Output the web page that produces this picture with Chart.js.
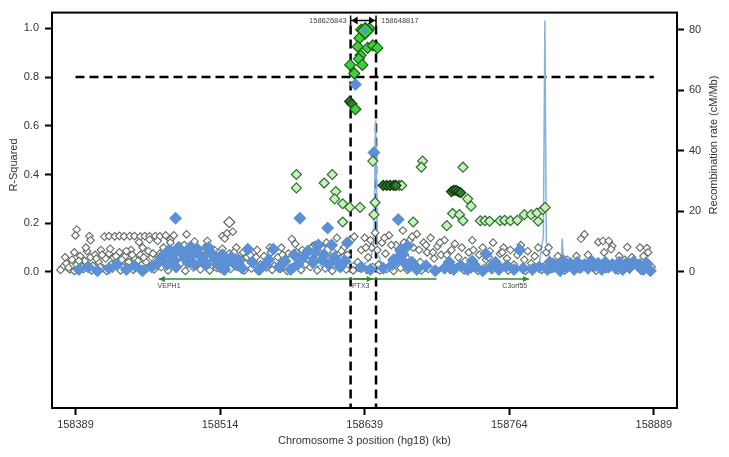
<!DOCTYPE html>
<html>
<head>
<meta charset="utf-8">
<script src="https://cdn.jsdelivr.net/npm/chart.js@4.4.0/dist/chart.umd.min.js"></script>
<style>
  html, body { margin: 0; padding: 0; background: #fff; }
</style>
</head>
<body>
<canvas id="plot" width="729" height="457"></canvas>
<script>
// --- axis ticks ---
const xTicks = [158389, 158514, 158639, 158764, 158889];
const rTicks = [0, 0.2, 0.4, 0.6, 0.8, 1.0];
const rateTicks = [0, 20, 40, 60, 80];

// --- SNPs: [position (kb), r-squared] ---
const lowSnps = [
  [158390,0.174],[158389,0.150],[158401,0.147],[158402,0.130],[158414,0.145],[158418,0.147],
  [158423,0.146],[158427,0.148],[158431,0.146],[158436,0.147],[158440,0.147],[158445,0.145],
  [158449,0.147],[158453,0.146],[158458,0.147],[158462,0.146],[158444,0.122],[158453,0.133],
  [158460,0.127],[158467,0.150],[158474,0.150],[158471,0.132],[158485,0.154],[158479,0.106],
  [158503,0.127],[158516,0.147],[158520,0.158],[158525,0.165],[158518,0.137],
  [158378,0.02],[158381,0.035],[158384,0.01],[158386,0.05],[158390,0.03],[158393,0.065],
  [158395,0.02],[158397,0.045],[158399,0.085],[158402,0.06],[158404,0.025],[158406,0.07],
  [158409,0.04],[158411,0.09],[158413,0.015],[158415,0.055],[158418,0.075],[158420,0.03],
  [158422,0.06],[158425,0.045],[158427,0.08],[158430,0.02],[158432,0.065],[158435,0.04],
  [158437,0.09],[158440,0.055],[158442,0.025],[158445,0.07],[158447,0.1],[158450,0.04],
  [158452,0.085],[158455,0.06],[158458,0.03],
  [158462,0.075],[158465,0.1],[158468,0.05],[158471,0.12],[158474,0.065],[158477,0.09],
  [158480,0.035],[158483,0.11],[158486,0.06],[158489,0.085],[158492,0.125],[158495,0.04],
  [158498,0.07],[158501,0.1],[158504,0.05],[158507,0.08],[158510,0.03],[158513,0.065],
  [158516,0.095],[158519,0.045],[158522,0.075],[158525,0.055],[158528,0.1],[158531,0.035],
  [158534,0.08],[158537,0.06],
  [158540,0.07],[158543,0.045],[158546,0.09],[158549,0.03],[158552,0.065],[158555,0.05],
  [158558,0.08],[158561,0.025],[158564,0.06],[158567,0.1],[158570,0.04],[158573,0.075],
  [158576,0.135],[158579,0.115],[158582,0.055],[158585,0.09],[158588,0.03],[158591,0.07],
  [158594,0.105],[158597,0.045],[158600,0.085],[158603,0.06],[158606,0.12],[158609,0.035],
  [158612,0.08],[158615,0.14],[158618,0.055],[158621,0.1],[158624,0.07],[158627,0.13],
  [158630,0.145],[158633,0.04],[158636,0.09],
  [158639,0.14],[158642,0.06],[158645,0.1],[158648,0.16],[158651,0.03],[158654,0.12],
  [158657,0.075],[158660,0.15],[158663,0.045],[158666,0.11],[158669,0.085],[158672,0.17],
  [158675,0.06],[158678,0.13],[158681,0.1],[158684,0.155],[158687,0.04],[158690,0.12],
  [158693,0.08],[158696,0.14],[158699,0.055],[158702,0.105],[158705,0.07],[158708,0.13],
  [158711,0.035],[158714,0.09],
  [158717,0.115],[158720,0.06],[158723,0.1],[158726,0.045],[158729,0.08],[158732,0.13],
  [158735,0.03],[158738,0.07],[158741,0.1],[158744,0.05],[158747,0.085],[158750,0.12],
  [158753,0.04],[158756,0.075],[158759,0.1],[158762,0.055],[158765,0.09],[158768,0.03],
  [158771,0.07],[158774,0.11],[158777,0.05],[158780,0.085],[158783,0.035],[158786,0.065],
  [158789,0.1],
  [158793,0.02],[158796,0.08],[158798,0.1],[158802,0.04],[158806,0.065],[158810,0.03],
  [158814,0.05],[158818,0.02],[158822,0.065],[158826,0.136],[158829,0.154],[158832,0.07],
  [158836,0.04],[158841,0.122],[158845,0.127],[158850,0.127],[158853,0.106],[158852,0.093],
  [158846,0.08],[158859,0.065],[158866,0.102],[158864,0.05],[158870,0.06],[158877,0.1],
  [158883,0.098],[158884,0.08],[158880,0.065],[158873,0.03],[158887,0.02],[158856,0.03],
  [158376,0.008],[158383,0.018],[158388,0.004],[158396,0.012],[158403,0.006],[158410,0.02],
  [158416,0.004],[158421,0.014],[158428,0.006],[158434,0.018],[158439,0.008],[158446,0.003],
  [158451,0.015],[158457,0.01],[158463,0.02],[158469,0.006],[158476,0.014],[158484,0.004],
  [158491,0.018],[158497,0.01],[158505,0.006],[158511,0.016],[158517,0.004],[158523,0.012],
  [158529,0.02],[158535,0.006],[158541,0.014],[158547,0.004],[158554,0.018],[158559,0.008],
  [158566,0.012],[158572,0.004],[158578,0.016],[158584,0.008],[158592,0.02],[158598,0.006],
  [158605,0.014],[158611,0.004],[158617,0.018],[158623,0.01],[158629,0.006],[158634,0.016],
  [158641,0.008],[158646,0.02],[158652,0.006],[158658,0.012],[158664,0.004],[158670,0.016],
  [158676,0.008],[158682,0.018],[158688,0.006],[158694,0.012],[158701,0.004],[158707,0.016],
  [158713,0.008],[158719,0.02],[158725,0.006],[158731,0.012],[158737,0.004],[158743,0.016],
  [158749,0.008],[158757,0.018],[158763,0.006],[158770,0.012],[158778,0.004],[158785,0.016],
  [158792,0.008],[158800,0.012],[158812,0.006],[158825,0.01],[158839,0.005],[158848,0.012],
  [158858,0.006],[158868,0.01],[158878,0.005],[158885,0.012],
  [158380,0.06],[158388,0.08],[158392,0.045],[158398,0.1],[158407,0.055],[158412,0.07],
  [158419,0.095],[158424,0.065],[158429,0.05],[158433,0.085],[158438,0.07],[158443,0.045],
  [158448,0.06],[158456,0.075],[158464,0.05],[158479,0.06],[158487,0.08],[158493,0.05],
  [158500,0.065],[158509,0.09],[158526,0.08],[158533,0.05],[158545,0.06],[158557,0.1],
  [158568,0.07],[158580,0.08],[158596,0.11],[158602,0.1],[158619,0.085],[158640,0.1],
  [158644,0.13],[158650,0.09],[158656,0.14],[158662,0.11],[158667,0.06],[158673,0.12],
  [158680,0.145],[158686,0.09],[158692,0.11],[158698,0.08],[158704,0.12],[158710,0.07],
  [158733,0.09],[158746,0.06],[158758,0.08]
];
const bigLowSnps = [[158522,0.204]];

const blueSnps = [
  [158475.5,0.22],[158583,0.22],[158607,0.18],[158610.5,0.11],[158624,0.12],[158631,0.77],
  [158647,0.49],[158668,0.215],[158676,0.106],[158672,0.072],[158744,0.072],[158773,0.09],
  [158392,0.01],[158400,0.02],[158408,0.005],[158418,0.015],[158425,0.03],[158433,0.01],
  [158440,0.025],[158447,0.005],[158455,0.02],[158461,0.04],[158466,0.07],[158470,0.09],
  [158474,0.05],[158478,0.1],[158482,0.07],[158486,0.04],[158490,0.08],[158494,0.095],
  [158498,0.06],[158502,0.03],[158506,0.08],[158510,0.05],[158514,0.02],[158518,0.01],
  [158527,0.03],[158533,0.015],[158538,0.093],[158542,0.04],[158548,0.01],[158553,0.03],
  [158560,0.093],[158565,0.02],[158570,0.045],[158575,0.01],[158581,0.03],[158586,0.06],
  [158590,0.086],[158594,0.04],[158599,0.11],[158604,0.07],[158608,0.03],[158613,0.06],
  [158618,0.02],[158622,0.045],[158636,0.02],[158644,0.01],[158655,0.015],[158663,0.03],
  [158668,0.06],[158673,0.04],[158677,0.02],[158684,0.01],[158692,0.025],[158700,0.005],
  [158708,0.015],[158716,0.01],[158722,0.025],[158728,0.01],[158735,0.02],[158741,0.005],
  [158748,0.02],[158755,0.01],[158762,0.025],[158768,0.01],[158776,0.015],[158784,0.01],
  [158790,0.02],[158797,0.01],[158802,0.02],[158808,0.005],[158814,0.02],[158820,0.01],
  [158826,0.02],[158832,0.015],[158838,0.025],[158844,0.01],[158850,0.02],[158856,0.015],
  [158862,0.01],[158868,0.02],[158874,0.03],[158880,0.01],[158886,0.005],
  [158799,0.04],[158805,0.03],[158811,0.045],[158817,0.035],[158823,0.04],[158829,0.03],
  [158835,0.045],[158841,0.035],[158847,0.04],[158853,0.03],[158859,0.04],[158865,0.035],
  [158871,0.04],[158877,0.03],[158883,0.035],
  [158463,0.06],[158468,0.03],[158472,0.075],[158476,0.02],[158480,0.085],[158484,0.055],
  [158488,0.1],[158492,0.03],[158496,0.07],[158500,0.045],[158504,0.1],[158508,0.065],
  [158512,0.035],[158516,0.07],[158520,0.04],[158524,0.06],[158530,0.05],[158556,0.05],
  [158578,0.07],[158596,0.08],[158602,0.05],[158616,0.04],[158664,0.05],[158670,0.09],
  [158680,0.04],[158712,0.04],[158732,0.045],[158752,0.04]
];

const midSnps = [
  [158580,0.40],[158580,0.345],[158611,0.40],[158604,0.365],[158614,0.33],[158613,0.30],
  [158620,0.28],[158626,0.265],[158635,0.265],[158620,0.205],[158648,0.285],[158647,0.235],
  [158646,0.455],[158689,0.455],[158688,0.43],[158724,0.43],[158669,0.355],[158671,0.355],
  [158728,0.30],[158731,0.27],[158715,0.24],[158721,0.235],[158724,0.21],[158710,0.19],
  [158681,0.205],[158739,0.21],[158743,0.21],[158747,0.208],[158756,0.21],[158760,0.212],
  [158765,0.21],[158771,0.212],[158777,0.235],[158783,0.235],[158789,0.208],[158788,0.242],
  [158793,0.256],[158795,0.265]
];

const darkSnps = [
  [158655,0.355],[158658,0.355],[158661,0.355],[158664,0.355],[158666,0.355],
  [158714,0.33],[158716,0.335],[158718,0.335],[158720,0.33],[158722,0.325],
  [158626,0.70],[158628,0.69]
];

const highSnps = [
  [158636,0.995],[158643,1.0],[158634.5,0.96],[158633,0.925],[158641.5,0.92],[158646,0.93],
  [158650,0.92],[158635.5,0.89],[158634,0.875],[158637,0.85],[158626.5,0.85],[158630,0.815],
  [158631,0.668]
];

const leadSnp = [[158639.5, 0.99]];

// --- recombination rate (cM/Mb) ---
const recombKb = [158389,158398,158406,158415,158424,158433,158442,158451,158460,158470,
  158480,158490,158500,158510,158520,158530,158540,158550,158560,158570,158580,158590,
  158600,158610,158620,158628,158636,158644,158647,158648.5,158650,158655,158665,158680,
  158695,158710,158725,158740,158755,158770,158782,158790,158793.5,158794.8,158796,
  158800,158806,158809,158809.8,158811,158820,158835,158850,158865,158878,158889];
const recombRate = [1.5,2.5,1,2,1,3,1.5,2,1,3,2,4,2,3,1,2,1,2.5,1,2,3,1.5,2,1,2.5,3,2,4,
  10,50,6,2,3,1.5,2,1,2,1,2.5,1,2,3,12,83,10,2,1.5,3,11,2,1,2,1.5,1,2,1];

// --- region markers ---
const threshold = 0.8;
const thresholdSpan = [158389, 158889];
const boundaries = [158626.843, 158648.817];
const boundaryLabels = ['158626843', '158648817'];

// --- genes ---
const geneNames = ['VEPH1', 'PTX3', 'C3orf55'];
const geneStart = [158461, 158629, 158746];
const geneEnd = [158701, 158646, 158781];
const geneStrand = [-1, 1, 1];
const geneLabelKb = [158460, 158628, 158758];

const pts = arr => arr.map(p => ({ x: p[0], y: p[1] }));
const FONT = '"Liberation Sans", Arial, sans-serif';

const overlay = {
  id: 'overlay',
  beforeDatasetsDraw(chart) {
    const { ctx, chartArea: a, scales: { x, y } } = chart;
    ctx.save();
    ctx.strokeStyle = '#000';
    ctx.lineWidth = 2.5;
    ctx.setLineDash([9, 5]);
    ctx.beginPath();
    const ty = y.getPixelForValue(threshold);
    ctx.moveTo(x.getPixelForValue(thresholdSpan[0]), ty);
    ctx.lineTo(x.getPixelForValue(thresholdSpan[1]), ty);
    boundaries.forEach(b => {
      const px = x.getPixelForValue(b);
      ctx.moveTo(px, a.top + 13);
      ctx.lineTo(px, a.bottom);
    });
    ctx.stroke();
    ctx.restore();
  },
  afterDraw(chart) {
    const { ctx, chartArea: a, scales: { x, y } } = chart;
    ctx.save();
    // frame
    ctx.strokeStyle = '#000';
    ctx.lineWidth = 2;
    ctx.strokeRect(a.left, a.top, a.right - a.left, a.bottom - a.top);

    // boundary arrow
    const x1 = x.getPixelForValue(boundaries[0]);
    const x2 = x.getPixelForValue(boundaries[1]);
    const ay = a.top + 8;
    ctx.lineWidth = 1.5;
    ctx.beginPath();
    ctx.moveTo(x1, ay - 5); ctx.lineTo(x1, ay + 5);
    ctx.moveTo(x2, ay - 5); ctx.lineTo(x2, ay + 5);
    ctx.moveTo(x1, ay); ctx.lineTo(x2, ay);
    ctx.stroke();
    ctx.fillStyle = '#000';
    ctx.beginPath();
    ctx.moveTo(x1 + 1, ay); ctx.lineTo(x1 + 7, ay - 4); ctx.lineTo(x1 + 7, ay + 4); ctx.closePath();
    ctx.moveTo(x2 - 1, ay); ctx.lineTo(x2 - 7, ay - 4); ctx.lineTo(x2 - 7, ay + 4); ctx.closePath();
    ctx.fill();
    ctx.fillStyle = '#444';
    ctx.font = '7.5px ' + FONT;
    ctx.textBaseline = 'middle';
    ctx.textAlign = 'right';
    ctx.fillText(boundaryLabels[0], x1 - 4, ay);
    ctx.textAlign = 'left';
    ctx.fillText(boundaryLabels[1], x2 + 5, ay);

    // genes
    const gy = y.getPixelForValue(-0.029);
    const ly = y.getPixelForValue(-0.058);
    ctx.strokeStyle = '#2e8b2e';
    ctx.fillStyle = '#2e8b2e';
    ctx.lineWidth = 1.5;
    geneNames.forEach((g, i) => {
      const s = x.getPixelForValue(geneStart[i]);
      const e = x.getPixelForValue(geneEnd[i]);
      ctx.beginPath();
      ctx.moveTo(s, gy); ctx.lineTo(e, gy);
      ctx.stroke();
      const tip = geneStrand[i] > 0 ? e : s;
      const d = geneStrand[i] > 0 ? -6 : 6;
      ctx.beginPath();
      ctx.moveTo(tip, gy); ctx.lineTo(tip + d, gy - 3); ctx.lineTo(tip + d, gy + 3); ctx.closePath();
      ctx.fill();
    });
    ctx.fillStyle = '#444';
    ctx.font = '7px ' + FONT;
    ctx.textAlign = 'left';
    geneNames.forEach((g, i) => ctx.fillText(g, x.getPixelForValue(geneLabelKb[i]), ly));

    // axis titles
    ctx.fillStyle = '#333';
    ctx.font = '11px ' + FONT;
    ctx.textAlign = 'center';
    ctx.fillText('Chromosome 3 position (hg18) (kb)', (a.left + a.right) / 2, 441);
    ctx.save();
    ctx.translate(14, 165);
    ctx.rotate(-Math.PI / 2);
    ctx.fillText('R-Squared', 0, 0);
    ctx.restore();
    ctx.save();
    ctx.translate(714, 145);
    ctx.rotate(-Math.PI / 2);
    ctx.fillText('Recombination rate (cM/Mb)', 0, 0);
    ctx.restore();
    ctx.restore();
  }
};

const tickFont = { family: FONT, size: 11 };
const axisGrid = { drawOnChartArea: false, drawTicks: true, tickLength: 7, tickWidth: 2, tickColor: '#000' };

new Chart(document.getElementById('plot'), {
  type: 'scatter',
  data: {
    datasets: [
      {
        data: pts(leadSnp), pointStyle: 'rectRot', pointRadius: 3.5,
        backgroundColor: '#5b8fd6', borderWidth: 0, order: 1
      },
      {
        data: pts(leadSnp), pointStyle: 'rectRot', pointRadius: 8,
        backgroundColor: '#3ad33a', borderColor: '#1d5e1d', borderWidth: 1.5, order: 2
      },
      {
        data: pts(highSnps), pointStyle: 'rectRot', pointRadius: 5.5,
        backgroundColor: '#3ad33a', borderColor: '#1d5e1d', borderWidth: 1.2, order: 3
      },
      {
        data: pts(darkSnps), pointStyle: 'rectRot', pointRadius: 5,
        backgroundColor: '#2f7f2f', borderColor: '#123812', borderWidth: 1.2, order: 4
      },
      {
        data: pts(midSnps), pointStyle: 'rectRot', pointRadius: 5,
        backgroundColor: '#c4f2bb', borderColor: '#346b34', borderWidth: 1.2, order: 5
      },
      {
        data: pts(blueSnps), pointStyle: 'rectRot', pointRadius: 6.5,
        backgroundColor: '#5b8fd6', borderWidth: 0, order: 6
      },
      {
        data: pts(bigLowSnps), pointStyle: 'rectRot', pointRadius: 5.5,
        backgroundColor: '#fff', borderColor: '#5a665a', borderWidth: 1.2, order: 7
      },
      {
        data: pts(lowSnps), pointStyle: 'rectRot', pointRadius: 3.8,
        backgroundColor: '#fff', borderColor: '#5f6b5f', borderWidth: 1.1, order: 8
      },
      {
        label: 'Recombination rate',
        data: recombKb.map((k, i) => ({ x: k, y: recombRate[i] })),
        yAxisID: 'y2',
        showLine: true,
        borderColor: '#86b2e0',
        borderWidth: 1.5,
        pointRadius: 0,
        order: 9
      }
    ]
  },
  options: {
    responsive: false,
    animation: false,
    devicePixelRatio: 1,
    layout: { padding: { top: 10, left: 0, right: 0, bottom: 0 } },
    plugins: { legend: { display: false }, tooltip: { enabled: false } },
    scales: {
      x: {
        type: 'linear', min: 158368.7, max: 158909,
        afterBuildTicks: s => { s.ticks = xTicks.map(v => ({ value: v })); },
        afterFit: s => { s.height = 49; },
        ticks: { callback: v => String(v), autoSkip: false, maxRotation: 0, padding: 3, font: tickFont, color: '#333' },
        grid: axisGrid,
        border: { display: false }
      },
      y: {
        position: 'left', min: -0.559, max: 1.065,
        afterBuildTicks: s => { s.ticks = rTicks.map(v => ({ value: v })); },
        afterFit: s => { s.width = 52; },
        ticks: { callback: v => v.toFixed(1), padding: 6, font: tickFont, color: '#333' },
        grid: axisGrid,
        border: { display: false }
      },
      y2: {
        position: 'right', min: -44.9, max: 85.6,
        afterBuildTicks: s => { s.ticks = rateTicks.map(v => ({ value: v })); },
        afterFit: s => { s.width = 52; },
        ticks: { callback: v => String(v), padding: 5, font: tickFont, color: '#333' },
        grid: axisGrid,
        border: { display: false }
      }
    }
  },
  plugins: [overlay]
});
</script>
</body>
</html>
